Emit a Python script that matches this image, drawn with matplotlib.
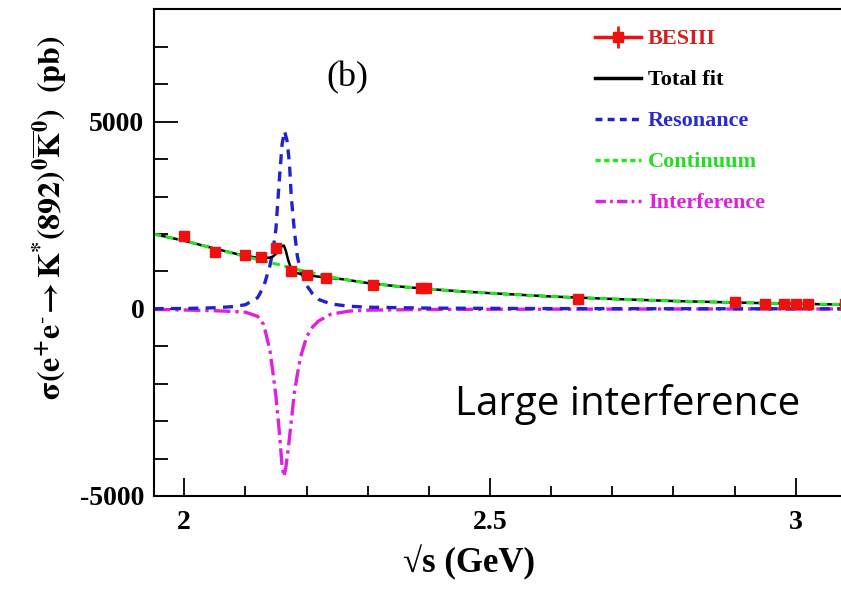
import matplotlib
matplotlib.use("Agg")
import matplotlib.pyplot as plt
from matplotlib.ticker import MultipleLocator
from matplotlib.lines import Line2D

plt.rcParams["font.family"] = ["Liberation Serif", "DejaVu Serif"]
plt.rcParams["mathtext.fontset"] = "stix"

# BESIII data points
data_x = [2.0, 2.05, 2.1, 2.125, 2.15, 2.175, 2.2, 2.2324, 2.3094, 2.3864,
          2.396, 2.6444, 2.9, 2.95, 2.981, 3.0, 3.02, 3.08]
data_y = [1946, 1524, 1435, 1390, 1632, 1005, 897, 825, 629, 545,
          560, 252, 175, 140, 135, 130, 125, 120]
data_err = [120, 110, 100, 100, 130, 90, 80, 80, 70, 60,
            60, 50, 40, 40, 40, 40, 40, 40]

# fit components
cont_x = [1.95, 2.0, 2.05, 2.1, 2.13, 2.16, 2.19, 2.2, 2.23, 2.26, 2.3, 2.35,
          2.4, 2.45, 2.5, 2.6, 2.7, 2.8, 2.9, 3.0, 3.1]
cont_y = [2000, 1820, 1610, 1400, 1280, 1160, 1030, 990, 880, 790, 690, 600,
          530, 470, 420, 330, 265, 210, 170, 135, 110]

total_x = [1.95, 2.0, 2.05, 2.1, 2.12, 2.13, 2.14, 2.145, 2.15, 2.155, 2.16,
           2.163, 2.166, 2.17, 2.175, 2.18, 2.19, 2.2, 2.23, 2.26, 2.3, 2.35,
           2.4, 2.45, 2.5, 2.6, 2.7, 2.8, 2.9, 3.0, 3.1]
total_y = [2000, 1820, 1610, 1410, 1370, 1360, 1370, 1400, 1470, 1580, 1685,
           1690, 1560, 1300, 1060, 980, 930, 900, 840, 790, 690, 600,
           530, 470, 420, 330, 265, 210, 170, 135, 110]

res_x = [1.95, 2.0, 2.05, 2.08, 2.1, 2.12, 2.13, 2.14, 2.145, 2.15, 2.155,
         2.16, 2.164, 2.168, 2.172, 2.175, 2.18, 2.185, 2.19, 2.2, 2.21,
         2.22, 2.24, 2.27, 2.3, 2.4, 2.6, 2.8, 3.1]
res_y = [5, 10, 30, 60, 110, 300, 600, 1150, 1550, 2150, 3350,
         4400, 4750, 4500, 3900, 3000, 2100, 1400, 1050, 630, 400,
         250, 130, 70, 45, 20, 8, 4, 2]

int_x = [1.95, 2.0, 2.05, 2.08, 2.1, 2.12, 2.13, 2.14, 2.145, 2.15, 2.155,
         2.16, 2.163, 2.166, 2.17, 2.175, 2.18, 2.185, 2.19, 2.2, 2.21,
         2.22, 2.24, 2.27, 2.3, 2.4, 2.6, 2.8, 3.1]
int_y = [-15, -30, -50, -70, -90, -200, -420, -1100, -1700, -2350, -3200,
         -4200, -4480, -4250, -3750, -3000, -2250, -1750, -1300, -750, -480,
         -320, -140, -60, -35, -15, -8, -4, -2]

red = "#f01010"
blue = "#2222cc"
green = "#22e622"
magenta = "#e020e0"

fig = plt.figure(figsize=(8.41, 5.93), dpi=100)
ax = fig.add_axes([0.1831, 0.1636, 0.8169, 0.8204])

ax.plot(int_x, int_y, color=magenta, lw=2.4, dashes=[5, 1.5, 1, 1.5])
ax.plot(res_x, res_y, color=blue, lw=2.4, dashes=[3, 2.2])
ax.plot(total_x, total_y, color="black", lw=1.8)
ax.plot(cont_x, cont_y, color=green, lw=2.2, dashes=[2.5, 1.5])
ax.errorbar(data_x, data_y, yerr=data_err, fmt="s", color=red, ms=7,
            elinewidth=1.5, capsize=0, zorder=5)

ax.set_xlim(1.9505, 3.074)
ax.set_ylim(-5000, 8000)
ax.xaxis.set_major_locator(MultipleLocator(0.5))
ax.xaxis.set_minor_locator(MultipleLocator(0.1))
ax.yaxis.set_major_locator(MultipleLocator(5000))
ax.yaxis.set_minor_locator(MultipleLocator(1000))
ax.tick_params(axis="x", which="major", direction="in", length=13, width=1.3,
               pad=10, labelsize=20)
ax.tick_params(axis="x", which="minor", direction="in", length=7, width=1.3)
ax.tick_params(axis="y", which="major", direction="in", length=17, width=1.3,
               pad=7, labelsize=20)
ax.tick_params(axis="y", which="minor", direction="in", length=10, width=1.3)
for lab in ax.get_xticklabels() + ax.get_yticklabels():
    lab.set_fontweight("bold")
ax.yaxis.set_major_formatter(plt.FuncFormatter(lambda v, p: f"{v:.0f}"))
ax.xaxis.set_major_formatter(plt.FuncFormatter(lambda v, p: f"{v:g}"))
for s in ["left", "bottom", "top"]:
    ax.spines[s].set_linewidth(1.5)
ax.spines["right"].set_visible(False)

ax.text(2.266, 6175, "(b)", fontsize=26, ha="center", va="center")
ax.text(2.725, -2560, "Large interference", fontsize=29, ha="center",
        va="center", family="Open Sans")

fig.text(0.0595, 0.632,
         r"$\mathbf{\sigma(e^{+}e^{\text{-}}\!\rightarrow K^{*}(892)^{0}"
         r"\overline{K}^{0})\ \ (pb)}$",
         rotation=90, ha="center", va="center", fontsize=23)
fig.text(0.558, 0.052, "\u221as (GeV)", ha="center", va="center",
         fontsize=25, fontweight="bold")

bes_line = Line2D([], [], color=red, lw=2.5, marker="s", ms=7)
bes_bar = Line2D([], [], color=red, lw=0, marker="|", ms=16, mew=2)
handles = [
    (bes_line, bes_bar),
    Line2D([], [], color="black", lw=2.5),
    Line2D([], [], color=blue, lw=2.5, dashes=[2, 1.5]),
    Line2D([], [], color=green, lw=2.5, dashes=[1.5, 1]),
    Line2D([], [], color=magenta, lw=2.5, dashes=[3, 1.2, 0.8, 1.2]),
]
labels = ["BESIII", "Total fit", "Resonance", "Continuum", "Interference"]
text_colors = ["#d02020", "black", "#2a2ad0", "#22dd22", "#dd22dd"]
leg = fig.legend(handles, labels, loc="upper left",
                 bbox_to_anchor=(0.694, 0.970), frameon=False,
                 handlelength=2.1, handletextpad=0.3, labelspacing=0.92,
                 borderpad=0, prop={"weight": "bold", "size": 16})
for t, c in zip(leg.get_texts(), text_colors):
    t.set_color(c)

fig.savefig("out.png", dpi=100)
